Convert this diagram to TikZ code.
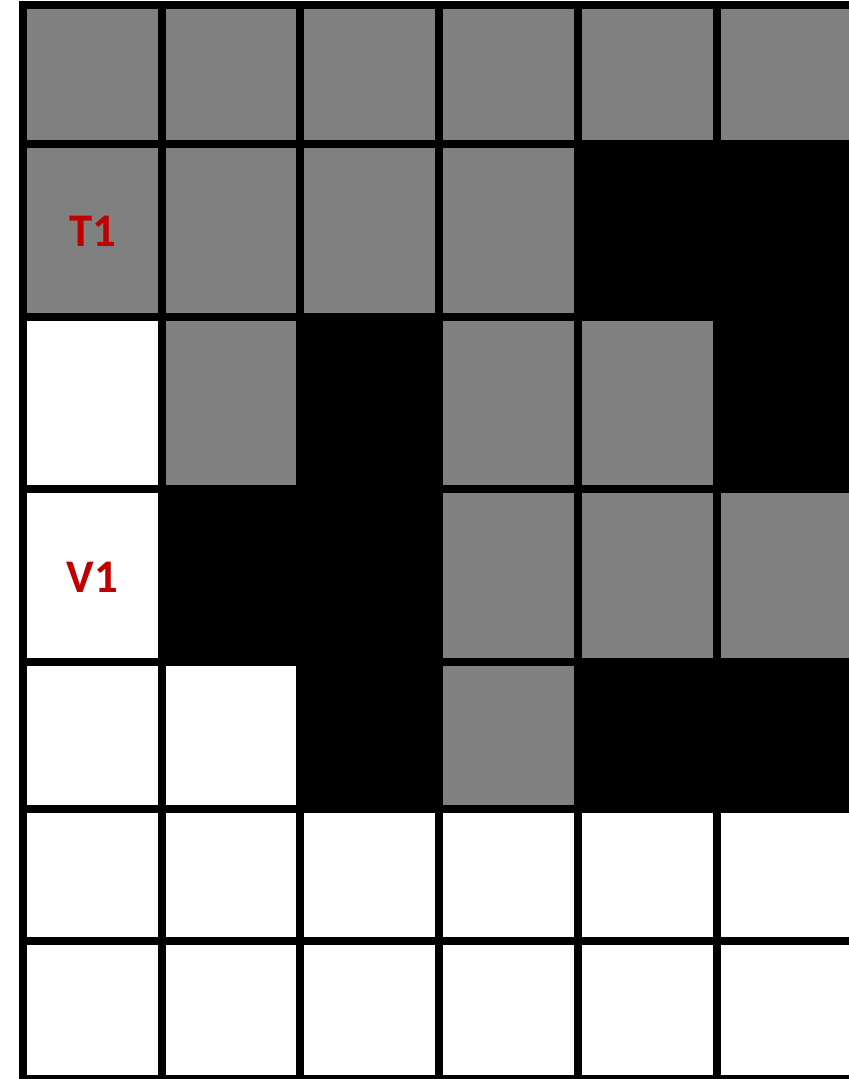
\documentclass[tikz,border=0pt]{standalone}
\usepackage{fontspec}
\newfontfamily\lblfont{Carlito}
\usepackage{tikz}
\usetikzlibrary{positioning}
\definecolor{CellGray}{RGB}{128,128,128}
\definecolor{LabelRed}{RGB}{192,0,0}
\colorlet{G}{CellGray}
\colorlet{K}{black}
\colorlet{W}{white}
\tikzset{
  gridline/.style={line width=0.08cm,line cap=rect},
  celllabel/.style={text=LabelRed,font=\lblfont\bfseries\fontsize{13.3}{16}\selectfont}
}

\begin{document}
\begin{tikzpicture}[x=0.01cm,y=-0.01cm]
  \useasboundingbox (0,0) rectangle (849,1079);
  \clip (0,0) rectangle (849,1079);
  % cell fills, row by row
  \foreach \ya/\yb/\cols in {5/144/{G,G,G,G,G,G},
                             144/316.7/{G,G,G,G,K,K},
                             316.7/489.3/{W,G,K,G,G,K},
                             489.3/662/{W,K,K,G,G,G},
                             662/809/{W,W,K,G,K,K},
                             809/941/{W,W,W,W,W,W},
                             941/1079/{W,W,W,W,W,W}}
    \foreach \c [count=\i] in \cols
      \fill[\c] ({23+138.73*(\i-1)},\ya) rectangle ({23+138.73*\i},\yb);
  % grid lines
  \foreach \y in {5,144,316.7,489.3,662,809,941,1079}
    \draw[gridline] (23,\y) -- (870,\y);
  \foreach \i in {0,...,6}
    \draw[gridline] ({23+138.73*\i},5) -- ({23+138.73*\i},1079);
  % labels
  \node[celllabel] (t1) at (92.5,231) {T1};
  \node[celllabel] (v1) at (92.5,577) {V1};
\end{tikzpicture}
\end{document}
